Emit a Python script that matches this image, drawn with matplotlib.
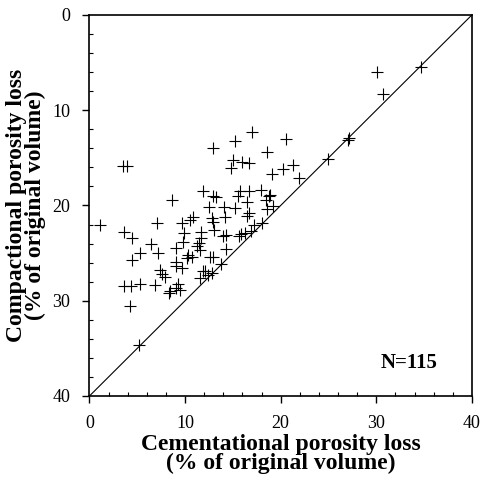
import matplotlib
matplotlib.use("Agg")
import matplotlib.pyplot as plt
from matplotlib.ticker import MultipleLocator

# Cementational vs compactional porosity loss (% of original volume)
cementational = [
    34.7, 30.1, 30.7, 27.2, 27.0, 24.9, 17.0, 15.2, 20.6, 12.9,
    18.6, 3.5, 3.9, 15.0, 16.0, 16.7, 14.8, 21.3, 20.2, 19.1,
    21.9, 18.9, 11.9, 12.9, 13.2, 15.7, 16.7, 17.9, 15.5, 18.8,
    16.5, 18.5, 8.6, 12.5, 14.1, 15.2, 18.6, 19.2, 16.7, 14.2,
    16.5, 10.8, 12.8, 10.5, 9.7, 7.1, 1.1, 12.9, 17.2, 18.0,
    3.6, 4.4, 9.9, 11.7, 13.0, 14.3, 15.6, 16.3, 16.9, 11.7,
    9.8, 6.4, 11.2, 11.6, 14.3, 9.1, 5.3, 7.2, 10.3, 10.2,
    4.4, 9.1, 12.9, 13.8, 9.0, 9.7, 7.4, 7.6, 7.9, 12.1,
    12.4, 11.6, 12.8, 3.6, 4.3, 5.3, 6.9, 9.3, 9.0, 8.4,
    8.3, 9.5, 4.2, 5.2, 10.7, 12.6, 15.9, 14.0, 11.5, 11.9,
]
compactional = [
    5.5, 6.0, 8.3, 12.9, 13.1, 15.1, 12.3, 13.2, 13.0, 14.0,
    14.4, 15.9, 15.9, 15.2, 15.4, 15.5, 16.1, 15.7, 16.2, 16.7,
    17.1, 18.9, 18.5, 19.0, 19.1, 18.5, 18.5, 18.4, 19.0, 19.0,
    19.6, 19.4, 19.4, 20.2, 20.2, 20.3, 20.4, 20.1, 20.8, 21.2,
    21.1, 21.2, 21.3, 21.5, 21.8, 21.8, 22.0, 21.7, 22.0, 21.8,
    22.8, 23.4, 22.9, 22.8, 22.6, 23.1, 23.2, 22.9, 22.7, 23.4,
    23.8, 24.0, 24.3, 24.7, 24.6, 24.5, 25.0, 25.0, 25.2, 25.5,
    25.7, 25.9, 25.4, 26.1, 26.4, 26.6, 26.8, 27.2, 27.5, 26.9,
    27.3, 27.6, 27.1, 28.5, 28.5, 28.2, 28.3, 28.2, 28.7, 29.0,
    29.2, 28.9, 30.5, 34.6, 25.4, 25.4, 23.0, 23.2, 23.9, 26.9,
]
sample_label = "N=115"
axis_limits = [0, 40]
major_ticks = [0, 10, 20, 30, 40]

plt.rcParams["font.family"] = ["Liberation Serif", "DejaVu Serif"]

fig = plt.figure(figsize=(4.81, 4.79), dpi=100)
ax = fig.add_axes([0.186, 0.1733, 0.795, 0.7954])

# reference line: total loss of 40 %
ax.plot(axis_limits, axis_limits[::-1], color="black", lw=0.8)
ax.plot(cementational, compactional, linestyle="none", marker="+",
        ms=8.5, mew=0.8, color="black")

ax.set_xlim(axis_limits)
ax.set_ylim(axis_limits[::-1])
ax.set_xticks(major_ticks)
ax.set_yticks(major_ticks)
ax.xaxis.set_minor_locator(MultipleLocator(2))
ax.yaxis.set_minor_locator(MultipleLocator(2))
ax.tick_params(which="major", direction="out", length=5, width=1,
               labelsize=13, pad=9)
ax.tick_params(which="minor", direction="in", length=3, width=0.8)
for s in ax.spines.values():
    s.set_linewidth(1.2)

ax.set_xlabel("Cementational porosity loss\n(% of original volume)",
              fontsize=17, fontweight="bold", linespacing=0.9, labelpad=1)
ax.set_ylabel("Compactional porosity loss\n(% of original volume)",
              fontsize=17, fontweight="bold", linespacing=0.9, labelpad=4)

ax.text(33.4, 36.5, sample_label, fontsize=15, fontweight="bold",
        ha="center", va="center")

fig.savefig("out.png", dpi=100)
